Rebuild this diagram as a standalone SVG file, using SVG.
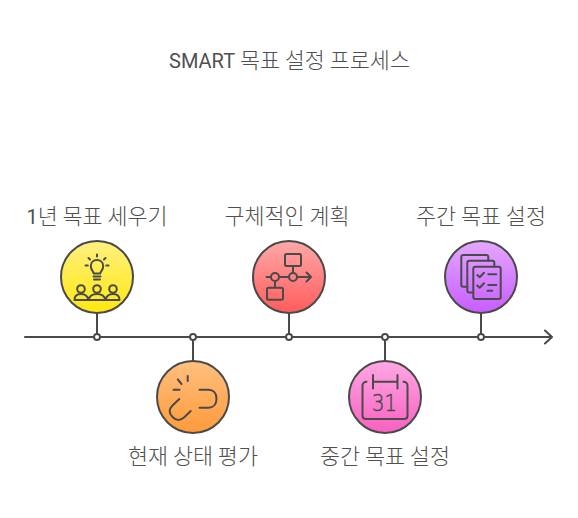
<svg xmlns="http://www.w3.org/2000/svg" width="578" height="518" viewBox="0 0 578 518">
<style>
text{font-family:"Noto Sans CJK KR","Noto Sans",sans-serif;font-size:21.800px;font-weight:300;fill:#505050;text-anchor:middle}
.lat{font-family:Roboto,sans-serif;font-size:20px;font-weight:400}
.c{stroke:#4a4a4a;stroke-width:2}
.l{fill:none;stroke:#4a4a4a;stroke-width:2;stroke-linecap:round;stroke-linejoin:round}
.i{fill:none;stroke:#4a4a4a;stroke-width:2;stroke-linecap:round;stroke-linejoin:round}
.d{fill:#fff;stroke:#4a4a4a;stroke-width:2}
</style>
<defs>
<linearGradient id="gy" x1="0" y1="0" x2="0" y2="1"><stop offset="0" stop-color="#fff080"/><stop offset="1" stop-color="#ffe80f"/></linearGradient>
<linearGradient id="go" x1="0" y1="0" x2="0" y2="1"><stop offset="0" stop-color="#ffc080"/><stop offset="1" stop-color="#ff9a3a"/></linearGradient>
<linearGradient id="gr" x1="0" y1="0" x2="0" y2="1"><stop offset="0" stop-color="#ffa8a8"/><stop offset="1" stop-color="#ff5c5c"/></linearGradient>
<linearGradient id="gp" x1="0" y1="0" x2="0" y2="1"><stop offset="0" stop-color="#ffa8e4"/><stop offset="1" stop-color="#f860c0"/></linearGradient>
<linearGradient id="gv" x1="0" y1="0" x2="0" y2="1"><stop offset="0" stop-color="#e4a8ff"/><stop offset="1" stop-color="#c75cff"/></linearGradient>
</defs>
<rect width="578" height="518" fill="#fff"/>
<text id="title" x="289.500" y="67.500"><tspan class="lat">SMART</tspan> 목표 설정 프로세스</text>
<g id="connectors">
<path class="l" d="M25 337H551M545 330.500L552 337L545 343.500"/>
<path class="l" d="M97 313V337M193 337V361M289 313V337M385 337V361M481 313V337"/>
<circle class="d" cx="97" cy="337" r="3"/>
<circle class="d" cx="193" cy="337" r="3"/>
<circle class="d" cx="289" cy="337" r="3"/>
<circle class="d" cx="385" cy="337" r="3"/>
<circle class="d" cx="481" cy="337" r="3"/>
</g>
<g id="node-1">
<circle class="c" cx="97" cy="277" r="36" fill="url(#gy)"/>
<path class="i" d="M93.800 273.500C93.500 271.500 90.800 270.500 90.800 266C90.800 262.500 93.500 260 97 260C100.500 260 103.200 262.500 103.200 266C103.200 270.500 100.500 271.500 100.200 273.500ZM93.500 276.500H100.500M94 279.500H100M97 254.500V256.500M88.500 258L90 259.500M105.500 258L104 259.500M85.500 265.500H87.800M106.200 265.500H108.500"/>
<circle class="i" cx="81" cy="289" r="3.800"/><circle class="i" cx="97" cy="289" r="3.800"/><circle class="i" cx="113" cy="289" r="3.800"/>
<path class="i" d="M74.500 300C74.500 295.500 77 294 81 294C85 294 87.500 295.500 88.500 300C89.500 295.500 93 294 97 294C101 294 104.500 295.500 105.500 300C106.500 295.500 109 294 113 294C117 294 119.500 295.500 119.500 300ZM88.500 300H105.500"/>
<text x="97" y="223.500"><tspan class="lat">1</tspan>년 목표 세우기</text>
</g>
<g id="node-2">
<circle class="c" cx="193" cy="397" r="36" fill="url(#go)"/>
<path class="i" d="M187.700 376V381M177.800 379.500L181.500 384M173.500 389.700H179.500M199.500 389.700H208.500C213.500 389.700 216.500 393.500 216.500 398.700C216.500 404 213.500 407.700 208.500 407.700H199.500M179.300 399L172.500 405.500C168 410 169.500 414 172.500 417C176 420.500 180 421 184 417.500L190.700 411"/>
<text x="193" y="463.500">현재 상태 평가</text>
</g>
<g id="node-3">
<circle class="c" cx="289" cy="277" r="36" fill="url(#gr)"/>
<rect class="i" x="285" y="254" width="16" height="12" rx="1.500"/>
<rect class="i" x="267" y="287.700" width="16" height="12" rx="1.500"/>
<circle class="i" cx="293" cy="277" r="4"/><circle class="i" cx="275" cy="277" r="4"/>
<path class="i" d="M293 266V273M266.500 277H271M279 277H289M297 277H311M306.500 272.500L311 277L306.500 281.500M275 281V287.700"/>
<text x="287" y="223.500">구체적인 계획</text>
</g>
<g id="node-4">
<circle class="c" cx="385" cy="397" r="36" fill="url(#gp)"/>
<path class="i" d="M373 375V388.500M397.500 375V388.500M373 381.700H397.500M366.500 381.700C364 381.700 362.500 383.500 362.500 385.500V415.500C362.500 417.500 364 419 366 419H404C406 419 407.500 417.500 407.500 415.500V385.500C407.500 383.500 406 381.700 403.500 381.700"/>
<text x="384.500" y="411" textLength="25" lengthAdjust="spacingAndGlyphs" style="font-family:'DejaVu Sans ExtraLight','DejaVu Sans',sans-serif;font-size:23px;font-weight:200;fill:#4a4a4a;stroke:#4a4a4a;stroke-width:.5">31</text>
<text x="385" y="463.500">중간 목표 설정</text>
</g>
<g id="node-5">
<circle class="c" cx="481" cy="277" r="36" fill="url(#gv)"/>
<path class="i" d="M488.300 260.500V257C488.300 255.800 487.500 255 486.300 255H463.300C462 255 461.300 255.800 461.300 257V285C461.300 286 462 286.700 463.300 286.700H467.300"/>
<path class="i" d="M494.300 266.500V262.700C494.300 261.500 493.500 260.700 492.300 260.700H469.300C468 260.700 467.300 261.500 467.300 262.700V290.500C467.300 291.700 468 292.400 469.300 292.400H473.300"/>
<rect class="i" x="473.300" y="266.700" width="27.400" height="32.300" rx="2"/>
<path class="i" d="M477.300 275L479.700 277.300L484 272.700M477.300 285.500L479.700 287.800L484 283.300M488.300 274.300H496.300M488.300 285H496.300M487.500 290.700H492.300"/>
<text x="481" y="223.500">주간 목표 설정</text>
</g>
</svg>
